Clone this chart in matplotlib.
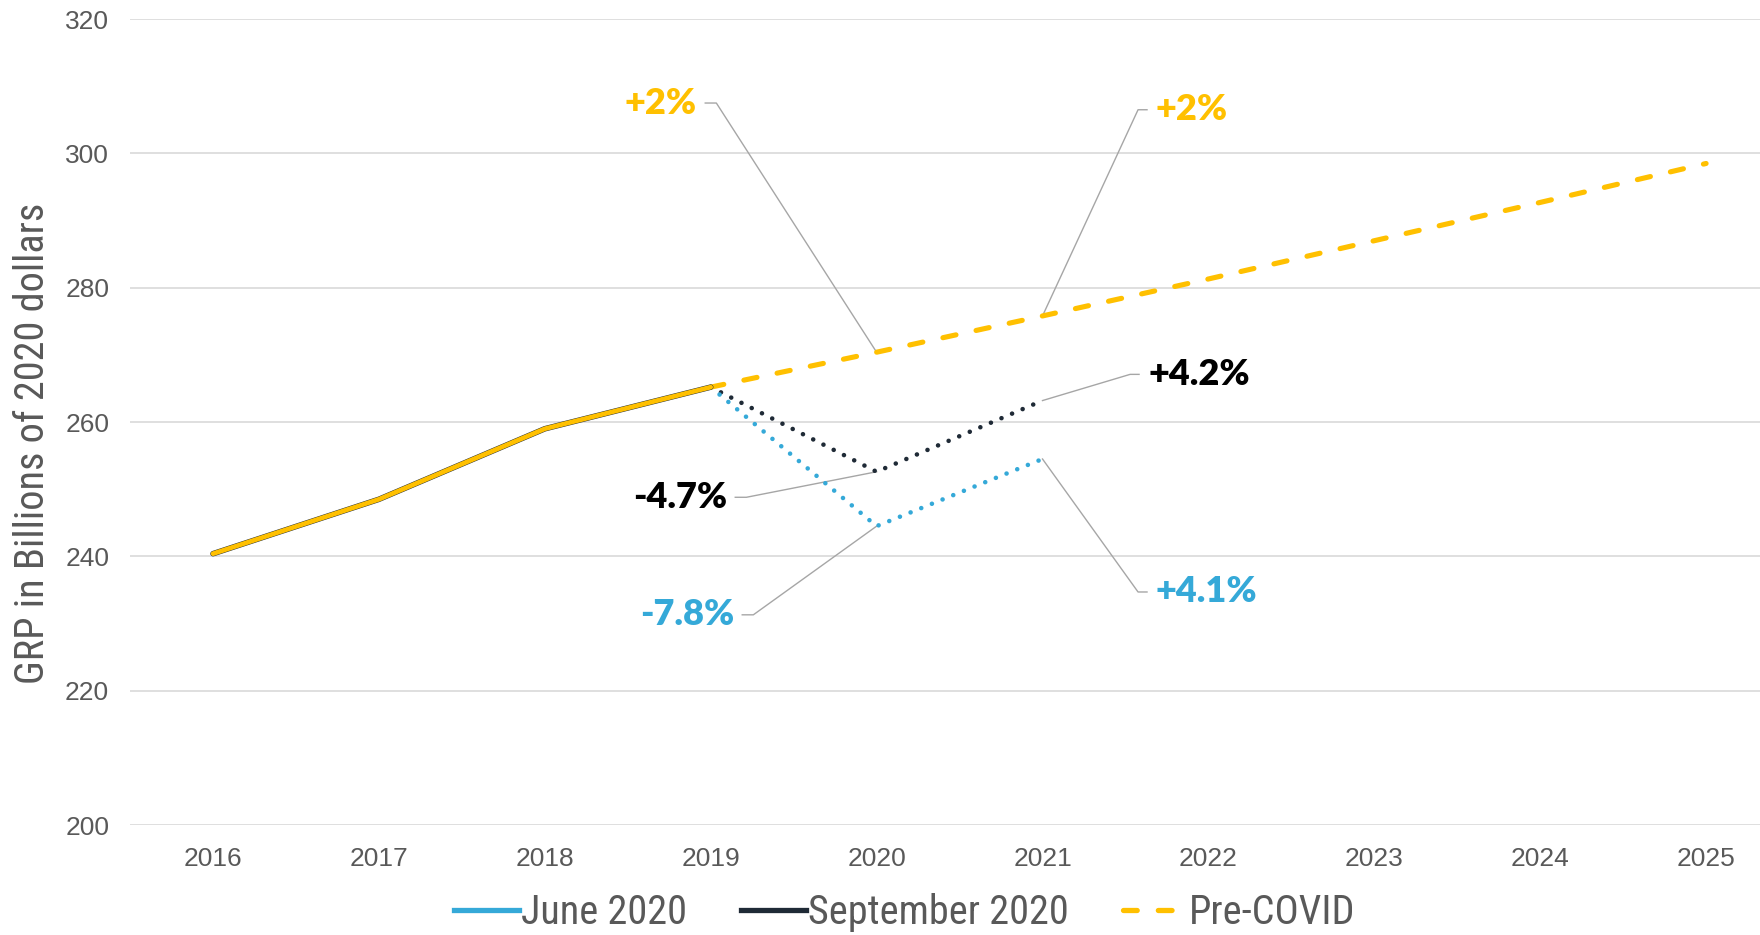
import matplotlib
matplotlib.use("Agg")
import matplotlib.pyplot as plt
from matplotlib.lines import Line2D
from matplotlib import font_manager

# Data (GRP in billions of 2020 dollars)
years = ["2016", "2017", "2018", "2019", "2020", "2021", "2022", "2023", "2024", "2025"]
history = [240.4, 248.5, 259.0, 265.2]            # 2016-2019
june_2020 = [244.5, 254.5]                         # 2020-2021
september_2020 = [252.6, 263.2]                    # 2020-2021
pre_covid = [270.4, 275.8, 281.3, 287.0, 292.7, 298.5]  # 2020-2025

# (label, series, index in forecast, colour, side)
labels = [
    ("+2%", "pre", 0, "#FFC000", "left"),
    ("+2%", "pre", 1, "#FFC000", "right"),
    ("+4.2%", "sep", 1, "#000000", "right"),
    ("-4.7%", "sep", 0, "#000000", "left"),
    ("-7.8%", "jun", 0, "#35A9D8", "left"),
    ("+4.1%", "jun", 1, "#35A9D8", "right"),
]
# text anchor offsets (x in categories, y in value units) relative to the point
label_offsets = [(-1.083, 37.1), (0.684, 30.7), (0.636, 3.9),
                 (-0.902, -3.8), (-0.860, -13.2), (0.684, -19.8)]

names = {f.name for f in font_manager.fontManager.ttflist}
narrow, narrow_size = "Liberation Sans", 25.5
for cand in ["Liberation Sans Narrow", "Arial Narrow", "DejaVu Sans Condensed",
             "Roboto Condensed", "Open Sans Condensed", "Noto Sans Condensed"]:
    if cand in names:
        narrow, narrow_size = cand, 29
        break
bold_font = "Lato" if "Lato" in names else "DejaVu Sans"

BLUE = "#35A9D8"
DARK = "#1F2A36"
GOLD = "#FFC000"
GREY = "#595959"

fig = plt.figure(figsize=(17.6, 9.35), dpi=100)
ax = fig.add_axes([0.0739, 0.1176, 0.9426, 0.862])

xh = list(range(len(history)))
last = len(history) - 1
xf_short = [last + i for i in range(len(june_2020) + 1)]
xf_long = [last + i for i in range(len(pre_covid) + 1)]

dots = (0, (0.01, 2.5))
dash = (0, (2.6, 4.0))

ax.plot(xf_short, [history[-1]] + september_2020, color=DARK, lw=3.3,
        linestyle=dots, dash_capstyle="round", zorder=3)
ax.plot(xf_short, [history[-1]] + june_2020, color=BLUE, lw=3.3,
        linestyle=dots, dash_capstyle="round", zorder=3)
ax.plot(xf_long, [history[-1]] + pre_covid, color=GOLD, lw=3.7,
        linestyle=dash, dash_capstyle="round", zorder=4)

# history drawn as the overlapping series
ax.plot(xh, history, color=DARK, lw=4.0, solid_capstyle="round", zorder=5)
ax.plot(xh, history, color=GOLD, lw=3.4, solid_capstyle="round", zorder=6)

series = {"pre": pre_covid, "sep": september_2020, "jun": june_2020}
for (txt, key, i, col, side), (dx, dy) in zip(labels, label_offsets):
    px = last + 1 + i
    py = series[key][i]
    tx, ty = px + dx, py + dy
    if side == "left":
        h0, h1 = tx + 0.05, tx + 0.117
        ha = "right"
    else:
        h0, h1 = tx - 0.054, tx - 0.108
        ha = "left"
    ax.plot([px, h1, h0], [py, ty, ty], color="#A6A6A6", lw=1.0, zorder=2)
    ax.text(tx, ty, txt, color=col, ha=ha, va="center", fontsize=26,
            fontweight="heavy", family=bold_font, zorder=7)

ax.set_xlim(-0.5, 9.5)
ax.set_ylim(200, 320)
ax.set_yticks(range(200, 321, 20))
ax.set_xticks(range(len(years)))
ax.set_xticklabels(years)
ax.yaxis.grid(True, color="#D9D9D9", lw=1.2)
ax.set_axisbelow(True)
for s in ax.spines.values():
    s.set_visible(False)
ax.tick_params(axis="both", length=0, labelsize=19, labelcolor=GREY)
ax.tick_params(axis="x", pad=16)
ax.tick_params(axis="y", pad=15)
for lab in ax.get_xticklabels() + ax.get_yticklabels():
    lab.set_family("Liberation Sans")

fig.text(33 / 1760, 1 - 443 / 935, "GRP in Billions of 2020 dollars",
         rotation=90, ha="center", va="center", fontsize=narrow_size,
         color=GREY, family=narrow)

handles = [
    Line2D([], [], color=BLUE, lw=3.8),
    Line2D([], [], color=DARK, lw=3.8),
    Line2D([], [], color=GOLD, lw=3.8, linestyle=dash, dash_capstyle="round"),
]
fig.legend(handles, ["June 2020", "September 2020", "Pre-COVID"],
           loc="center", bbox_to_anchor=(905 / 1760, 1 - 913 / 935), ncol=3,
           frameon=False, handlelength=1.6, handletextpad=0.05,
           columnspacing=1.35, prop={"family": narrow, "size": narrow_size},
           labelcolor=GREY)

fig.savefig("out.png", dpi=100)
